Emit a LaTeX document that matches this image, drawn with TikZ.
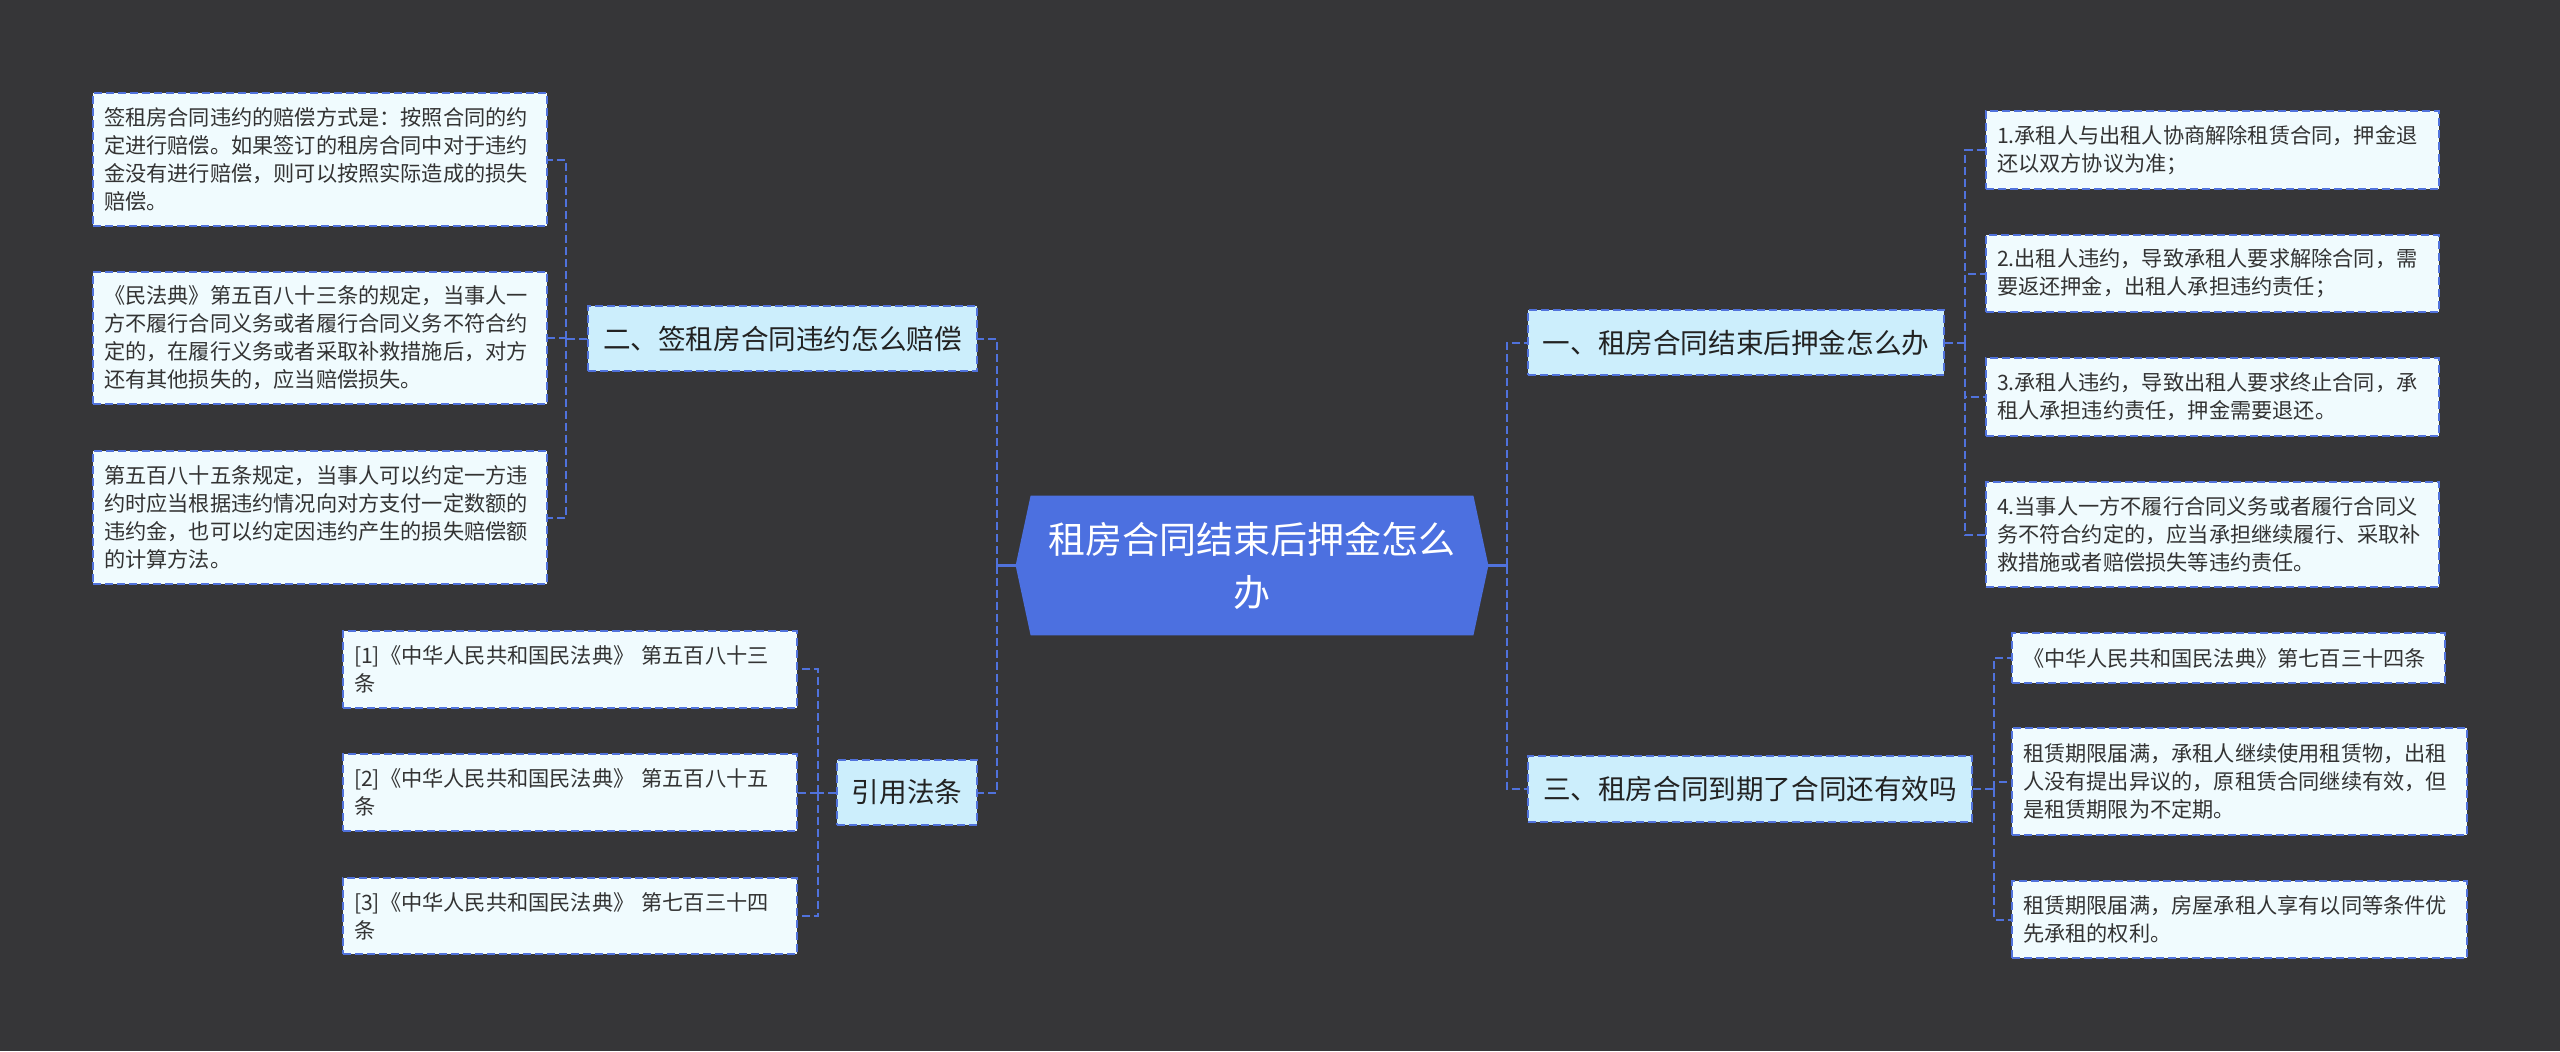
\documentclass[tikz,border=0pt]{standalone}
\usepackage{fontspec}
\setmainfont{Noto Sans CJK SC}
\usetikzlibrary{calc}
\definecolor{bg}{HTML}{363638}
\definecolor{edge}{HTML}{5072DC}
\definecolor{leaffill}{HTML}{F0FBFE}
\definecolor{branchfill}{HTML}{CCEEFC}
\definecolor{centerfill}{HTML}{4C70E0}
\definecolor{leaftext}{HTML}{333333}
\definecolor{branchtext}{HTML}{222222}
\tikzset{
  box/.style={draw=edge, line width=1pt, dash pattern=on 4pt off 2pt, inner xsep=5.5pt, inner ysep=0pt},
  leaf/.style={box, fill=leaffill, text=leaftext, align=left, font=\fontsize{10.6}{14}\selectfont},
  branch/.style={box, fill=branchfill, text=branchtext, align=center, font=\fontsize{13.8}{17}\selectfont},
  conn/.style={draw=edge, line width=1pt, dash pattern=on 4pt off 2pt},
  solidconn/.style={draw=edge, line width=1.2pt},
  centertext/.style={inner sep=0pt, text=white, align=center, font=\fontsize{18.5}{26.5}\selectfont},
}
\begin{document}
\begin{tikzpicture}[x=0.5pt,y=-0.5pt]
\fill[bg] (0,0) rectangle (2560,1051);
\useasboundingbox (0,0) rectangle (2560,1051);

% central node: geometry, hexagon, text
\node[minimum width=236pt, minimum height=69.5pt, inner sep=0pt] (c) at (1252,565.5) {};
\fill[centerfill] (c.west) -- ($(c.north west)+(15,0)$) -- ($(c.north east)+(-15,0)$) -- (c.east)
   -- ($(c.south east)+(-15,0)$) -- ($(c.south west)+(15,0)$) -- cycle;
\node[centertext] (ct) at (c.center) {租房合同结束后押金怎么\\办};

% branch nodes
\node[branch, minimum width=194.5pt, minimum height=32.5pt] (b2) at (782.5,338.5) {二、签租房合同违约怎么赔偿};
\node[branch, minimum width=70pt, minimum height=32.5pt] (b4) at (907,792.5) {引用法条};
\node[branch, minimum width=208pt, minimum height=32.5pt] (b1) at (1736,342.5) {一、租房合同结束后押金怎么办};
\node[branch, minimum width=222pt, minimum height=33pt] (b3) at (1750,789) {三、租房合同到期了合同还有效吗};

% left leaves
\node[leaf, minimum width=227pt, text width=216pt, minimum height=66.5pt] (L1) at (320,159.5)
 {签租房合同违约的赔偿方式是：按照合同的约\\定进行赔偿。如果签订的租房合同中对于违约\\金没有进行赔偿，则可以按照实际造成的损失\\赔偿。};
\node[leaf, minimum width=227pt, text width=216pt, minimum height=66pt] (L2) at (320,338)
 {《民法典》第五百八十三条的规定，当事人一\\方不履行合同义务或者履行合同义务不符合约\\定的，在履行义务或者采取补救措施后，对方\\还有其他损失的，应当赔偿损失。};
\node[leaf, minimum width=227pt, text width=216pt, minimum height=66.5pt] (L3) at (320,517.5)
 {第五百八十五条规定，当事人可以约定一方违\\约时应当根据违约情况向对方支付一定数额的\\违约金，也可以约定因违约产生的损失赔偿额\\的计算方法。};

% reference leaves
\node[leaf, minimum width=227pt, text width=216pt, minimum height=38.5pt] (R1) at (570,669)
 {[1]《中华人民共和国民法典》 第五百八十三\\条};
\node[leaf, minimum width=227pt, text width=216pt, minimum height=38.5pt] (R2) at (570,792.5)
 {[2]《中华人民共和国民法典》 第五百八十五\\条};
\node[leaf, minimum width=227pt, text width=216pt, minimum height=38pt] (R3) at (570,916)
 {[3]《中华人民共和国民法典》 第七百三十四\\条};

% right leaves (一)
\node[leaf, minimum width=226.5pt, text width=215.5pt, minimum height=39pt] (A1) at (2212.5,150)
 {1.承租人与出租人协商解除租赁合同，押金退\\还以双方协议为准；};
\node[leaf, minimum width=226.5pt, text width=215.5pt, minimum height=38.5pt] (A2) at (2212.5,273.5)
 {2.出租人违约，导致承租人要求解除合同，需\\要返还押金，出租人承担违约责任；};
\node[leaf, minimum width=226.5pt, text width=215.5pt, minimum height=39pt] (A3) at (2212.5,397)
 {3.承租人违约，导致出租人要求终止合同，承\\租人承担违约责任，押金需要退还。};
\node[leaf, minimum width=226.5pt, text width=215.5pt, minimum height=52.5pt] (A4) at (2212.5,534.5)
 {4.当事人一方不履行合同义务或者履行合同义\\务不符合约定的，应当承担继续履行、采取补\\救措施或者赔偿损失等违约责任。};

% right leaves (三)
\node[leaf, minimum width=216.5pt, text width=205.5pt, minimum height=25pt] (T1) at (2228.5,658)
 {《中华人民共和国民法典》第七百三十四条};
\node[leaf, minimum width=227.5pt, text width=216.5pt, minimum height=53.5pt] (T2) at (2239.5,781.5)
 {租赁期限届满，承租人继续使用租赁物，出租\\人没有提出异议的，原租赁合同继续有效，但\\是租赁期限为不定期。};
\node[leaf, minimum width=227.5pt, text width=216.5pt, minimum height=38.5pt] (T3) at (2239.5,919.5)
 {租赁期限届满，房屋承租人享有以同等条件优\\先承租的权利。};

% junction coordinates
\coordinate (cl) at (997,565.5);
\coordinate (cr) at (1507,565.5);
\coordinate (j2) at (566,338.5);
\coordinate (j4) at (818,792.5);
\coordinate (j1) at (1965,342.5);
\coordinate (j3) at (1994,789);

% connectors
\draw[solidconn] (c.west) -- (cl);
\draw[solidconn] (c.east) -- (cr);
\draw[conn] (cl) |- (b2.east);
\draw[conn] (cl) |- (b4.east);
\draw[conn] (cr) |- (b1.west);
\draw[conn] (cr) |- (b3.west);

\draw[conn] (b2.west) -- (j2);
\draw[conn] (j2) |- (L1.east);
\draw[conn] (j2) |- (L2.east);
\draw[conn] (j2) |- (L3.east);

\draw[conn] (b4.west) -- (j4);
\draw[conn] (j4) |- (R1.east);
\draw[conn] (j4) |- (R2.east);
\draw[conn] (j4) |- (R3.east);

\draw[conn] (b1.east) -- (j1);
\draw[conn] (j1) |- (A1.west);
\draw[conn] (j1) |- (A2.west);
\draw[conn] (j1) |- (A3.west);
\draw[conn] (j1) |- (A4.west);

\draw[conn] (b3.east) -- (j3);
\draw[conn] (j3) |- (T1.west);
\draw[conn] (j3) |- (T2.west);
\draw[conn] (j3) |- (T3.west);
\end{tikzpicture}
\end{document}
